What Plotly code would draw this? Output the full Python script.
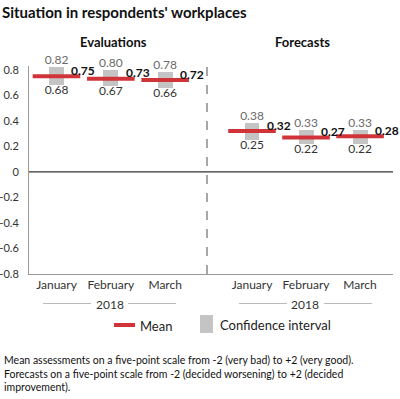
import plotly.graph_objects as go

months = ["January", "February", "March"]
year_label = "2018"
panel_titles = ["Evaluations", "Forecasts"]

eval_mean = [0.75, 0.73, 0.72]
eval_upper = [0.82, 0.80, 0.78]
eval_lower = [0.68, 0.67, 0.66]

fcst_mean = [0.32, 0.27, 0.28]
fcst_upper = [0.38, 0.33, 0.33]
fcst_lower = [0.25, 0.22, 0.22]

title = "Situation in respondents' workplaces"
footnote = ("Mean assessments on a five-point scale from -2 (very bad) to +2 (very good).<br>"
            "Forecasts on a five-point scale from -2 (decided worsening) to +2 (decided<br>"
            "improvement).")

FONT = "Lato"
RED = "#d13438"
GREY = "#c4c4c4"
W, H = 400, 399
L, R, T, B = 29, 7, 66, 125
PW, PH = W - L - R, H - T - B


def px(x):
    return (x - L) / PW


def py(y):
    return (H - B - y) / PH


split = px(207)

fig = go.Figure()
for xa, mean, up, lo in [("x", eval_mean, eval_upper, eval_lower),
                         ("x2", fcst_mean, fcst_upper, fcst_lower)]:
    fig.add_trace(go.Bar(x=months, y=[u - l for u, l in zip(up, lo)], base=lo,
                         width=0.277, marker=dict(color=GREY, line=dict(width=0)),
                         xaxis=xa, yaxis="y", showlegend=False, hoverinfo="skip"))
    fig.add_trace(go.Scatter(x=months, y=mean, mode="markers", xaxis=xa, yaxis="y",
                             marker=dict(symbol="line-ew", size=34,
                                         line=dict(color=RED, width=4)),
                             showlegend=False, hoverinfo="skip"))
    fig.add_trace(go.Scatter(x=months, y=up, mode="text", xaxis=xa, yaxis="y",
                             text=[f"{v:.2f}" for v in up], textposition="top center",
                             textfont=dict(family=FONT, size=12, color="#6a6a6a"),
                             showlegend=False, hoverinfo="skip", cliponaxis=False))
    fig.add_trace(go.Scatter(x=months, y=lo, mode="text", xaxis=xa, yaxis="y",
                             text=[f"{v:.2f}" for v in lo], textposition="bottom center",
                             textfont=dict(family=FONT, size=12, color="#333333"),
                             showlegend=False, hoverinfo="skip", cliponaxis=False))
    for m, v in zip(months, mean):
        fig.add_annotation(x=m, y=v, xref=xa, yref="y", text=f"<b>{v:.2f}</b>",
                           showarrow=False, xanchor="left", yanchor="middle",
                           xshift=13, yshift=6,
                           font=dict(family=FONT, size=12, color="#111111"))

axis_common = dict(type="category", showgrid=False, zeroline=False, showline=True,
                   linecolor="#9a9a9a", linewidth=1, ticks="", automargin=False,
                   tickfont=dict(family=FONT, size=12, color="#333333"),
                   fixedrange=True)
fig.update_layout(
    width=W, height=H,
    margin=dict(l=L, r=R, t=T, b=B, pad=0, autoexpand=False),
    paper_bgcolor="white", plot_bgcolor="white",
    font=dict(family=FONT, color="#222222"),
    xaxis=dict(domain=[0, split], range=[-0.506, 2.77], anchor="y", **axis_common),
    xaxis2=dict(domain=[split, 1], range=[-0.833, 2.61], anchor="y", **axis_common),
    yaxis=dict(range=[-0.8, 0.83], tickvals=[-0.8, -0.6, -0.4, -0.2, 0, 0.2, 0.4, 0.6, 0.8],
               ticktext=["-0.8", "-0.6", "-0.4", "-0.2", "0", "0.2", "0.4", "0.6", "0.8"],
               showgrid=False, zeroline=False, showline=True, linecolor="#9a9a9a",
               linewidth=1, ticks="", ticklabelstandoff=7, automargin=False,
               tickfont=dict(family=FONT, size=11, color="#333333")),
    title=dict(text=f"<b>{title}</b>", x=2 / W, xref="container", xanchor="left",
               y=1 - 13 / H, yref="container", yanchor="middle",
               font=dict(family=FONT, size=15, color="#111111")),
    bargap=0,
)

# zero line and divider
fig.add_shape(type="line", xref="paper", yref="y", x0=0, x1=1, y0=0, y1=0,
              line=dict(color="#333333", width=1.2))
fig.add_shape(type="line", xref="paper", yref="y", x0=split, x1=split, y0=-0.8, y1=0.83,
              line=dict(color="#8a8a8a", width=1.5, dash="dash"))

# panel titles
for cx, t in [(113, panel_titles[0]), (302, panel_titles[1])]:
    fig.add_annotation(x=px(cx), y=py(42), xref="paper", yref="paper", text=f"<b>{t}</b>",
                       showarrow=False, xanchor="center", yanchor="middle",
                       font=dict(family=FONT, size=13, color="#111111"))

# year group labels
for cx, segs in [(110, [(43, 91), (128, 176)]), (305, [(239, 287), (324, 372)])]:
    fig.add_annotation(x=px(cx), y=py(304), xref="paper", yref="paper", text=year_label,
                       showarrow=False, xanchor="center", yanchor="middle",
                       font=dict(family=FONT, size=12, color="#333333"))
    for a, b in segs:
        fig.add_shape(type="line", xref="paper", yref="paper", x0=px(a), x1=px(b),
                      y0=py(303.5), y1=py(303.5), line=dict(color="#bbbbbb", width=1))

# legend
fig.add_shape(type="line", xref="paper", yref="paper", x0=px(114), x1=px(135),
              y0=py(325), y1=py(325), line=dict(color=RED, width=4))
fig.add_annotation(x=px(138), y=py(326), xref="paper", yref="paper", text="Mean",
                   showarrow=False, xanchor="left", yanchor="middle",
                   font=dict(family=FONT, size=13, color="#222222"))
fig.add_shape(type="rect", xref="paper", yref="paper", x0=px(200), x1=px(213),
              y0=py(333), y1=py(315), fillcolor=GREY, line=dict(width=0))
fig.add_annotation(x=px(218), y=py(325), xref="paper", yref="paper",
                   text="Confidence interval", showarrow=False, xanchor="left",
                   yanchor="middle", font=dict(family=FONT, size=13, color="#222222"))

# footnote
fig.add_annotation(x=px(2), y=py(352), xref="paper", yref="paper", text=footnote,
                   showarrow=False, xanchor="left", yanchor="top", align="left",
                   font=dict(family=FONT, size=10.5, color="#111111"))

fig.write_html("out.html", config={"displayModeBar": False},
               post_script="document.body.style.margin='0';document.body.style.overflow='hidden';")
